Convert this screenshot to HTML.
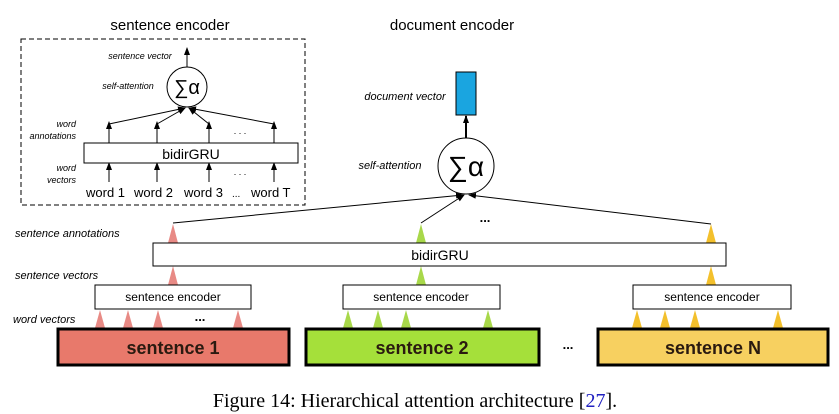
<!DOCTYPE html>
<html><head><style>
body{margin:0;background:#fff;}
svg{display:block;font-family:"Liberation Sans",sans-serif;}
</style></head><body>
<svg width="839" height="414" viewBox="0 0 839 414" xmlns="http://www.w3.org/2000/svg">
<defs>
<marker id="ah" markerWidth="8" markerHeight="8" refX="7" refY="4" orient="auto" markerUnits="userSpaceOnUse"><path d="M0,1 L8,4 L0,7 z" fill="#000"/></marker>
</defs>
<text x="170" y="30" font-size="15" text-anchor="middle">sentence encoder</text>
<rect x="21" y="39" width="284" height="166" fill="none" stroke="#000" stroke-dasharray="5,3"/>
<line x1="187" y1="67" x2="187" y2="48" stroke="#000" marker-end="url(#ah)"/>
<text x="140" y="59" font-size="9" font-style="italic" text-anchor="middle">sentence vector</text>
<text x="128" y="89" font-size="9" font-style="italic" text-anchor="middle">self-attention</text>
<circle cx="187" cy="87" r="20" fill="#fff" stroke="#000"/>
<text x="187" y="94" font-size="20" text-anchor="middle">∑α</text>
<g stroke="#000">
<line x1="109" y1="124" x2="185" y2="108" marker-end="url(#ah)"/>
<line x1="157" y1="124" x2="185" y2="108" marker-end="url(#ah)"/>
<line x1="209" y1="124" x2="189" y2="108" marker-end="url(#ah)"/>
<line x1="274" y1="124" x2="189" y2="108" marker-end="url(#ah)"/>
<line x1="109" y1="143" x2="109" y2="122" marker-end="url(#ah)"/>
<line x1="157" y1="143" x2="157" y2="122" marker-end="url(#ah)"/>
<line x1="209" y1="143" x2="209" y2="122" marker-end="url(#ah)"/>
<line x1="274" y1="143" x2="274" y2="122" marker-end="url(#ah)"/>
<line x1="109" y1="182" x2="109" y2="163" marker-end="url(#ah)"/>
<line x1="157" y1="182" x2="157" y2="163" marker-end="url(#ah)"/>
<line x1="209" y1="182" x2="209" y2="163" marker-end="url(#ah)"/>
<line x1="274" y1="182" x2="274" y2="163" marker-end="url(#ah)"/>
</g>
<text x="240" y="134" font-size="9" text-anchor="middle">. . .</text>
<text x="240" y="175" font-size="9" text-anchor="middle">. . .</text>
<rect x="84" y="143" width="214" height="20" fill="#fff" stroke="#000"/>
<text x="191" y="159" font-size="14" text-anchor="middle">bidirGRU</text>
<g font-size="9" font-style="italic" text-anchor="end">
<text x="76" y="127">word</text><text x="76" y="139">annotations</text>
<text x="76" y="171">word</text><text x="76" y="183">vectors</text>
</g>
<g font-size="13">
<text x="86" y="197">word 1</text><text x="134" y="197">word 2</text><text x="184" y="197">word 3</text>
<text x="232" y="197" font-size="10">...</text><text x="251" y="197">word T</text>
</g>
<text x="452" y="30" font-size="15" text-anchor="middle">document encoder</text>
<rect x="456" y="72" width="20" height="43" fill="#1aa5e0" stroke="#000"/>
<text x="405" y="100" font-size="11" font-style="italic" text-anchor="middle">document vector</text>
<line x1="466" y1="138" x2="466" y2="116" stroke="#000" stroke-width="2" marker-end="url(#ah)"/>
<text x="390" y="169" font-size="11" font-style="italic" text-anchor="middle">self-attention</text>
<circle cx="466" cy="166" r="28" fill="#fff" stroke="#000"/>
<text x="466" y="176" font-size="28" text-anchor="middle">∑α</text>
<g stroke="#000">
<line x1="173" y1="223" x2="463" y2="195" marker-end="url(#ah)"/>
<line x1="421" y1="223" x2="464" y2="195" marker-end="url(#ah)"/>
<line x1="711" y1="224" x2="469" y2="195" marker-end="url(#ah)"/>
</g>
<text x="485" y="222" font-size="13" font-weight="bold" text-anchor="middle">...</text>
<g>
<path d="M168,243 L173,224 L178,243 z" fill="#e88a85"/>
<path d="M168,285 L173,266 L178,285 z" fill="#e88a85"/>
<path d="M416,243 L421,224 L426,243 z" fill="#a8d84a"/>
<path d="M416,285 L421,266 L426,285 z" fill="#a8d84a"/>
<path d="M706,243 L711,224 L716,243 z" fill="#f3c02c"/>
<path d="M706,285 L711,266 L716,285 z" fill="#f3c02c"/>
</g>
<g fill="#e88a85">
<path d="M95,328 L100,310 L105,328z"/><path d="M123,328 L128,310 L133,328z"/><path d="M153,328 L158,310 L163,328z"/><path d="M233,328 L238,310 L243,328z"/>
</g>
<g fill="#a8d84a">
<path d="M343,328 L348,310 L353,328z"/><path d="M373,328 L378,310 L383,328z"/><path d="M401,328 L406,310 L411,328z"/><path d="M483,328 L488,310 L493,328z"/>
</g>
<g fill="#f3c02c">
<path d="M632,328 L637,310 L642,328z"/><path d="M660,328 L665,310 L670,328z"/><path d="M690,328 L695,310 L700,328z"/><path d="M773,328 L778,310 L783,328z"/>
</g>
<text x="200" y="321" font-size="13" font-weight="bold" text-anchor="middle">...</text>
<rect x="153" y="243" width="573" height="23" fill="#fff" stroke="#000"/>
<text x="440" y="260" font-size="14" text-anchor="middle">bidirGRU</text>
<g font-size="12">
<rect x="95" y="285" width="156" height="24" fill="#fff" stroke="#000"/><text x="173" y="301" text-anchor="middle">sentence encoder</text>
<rect x="343" y="285" width="157" height="24" fill="#fff" stroke="#000"/><text x="421" y="301" text-anchor="middle">sentence encoder</text>
<rect x="633" y="285" width="158" height="24" fill="#fff" stroke="#000"/><text x="712" y="301" text-anchor="middle">sentence encoder</text>
</g>
<g font-size="11" font-style="italic">
<text x="15" y="237">sentence annotations</text>
<text x="15" y="279">sentence vectors</text>
<text x="13" y="323">word vectors</text>
</g>
<g stroke="#000" stroke-width="3">
<rect x="58" y="329" width="231" height="36" fill="#e8796b"/>
<rect x="306" y="329" width="233" height="36" fill="#a5e03a"/>
<rect x="598" y="329" width="230" height="36" fill="#f7d060"/>
</g>
<g font-size="18" font-weight="bold" text-anchor="middle" fill="#2a1a10">
<text x="173" y="354">sentence 1</text>
<text x="422" y="354">sentence 2</text>
<text x="713" y="354">sentence N</text>
</g>
<text x="568" y="349" font-size="13" font-weight="bold" text-anchor="middle">...</text>
<text x="415" y="407" font-size="20" font-family="Liberation Serif, serif" text-anchor="middle">Figure 14: Hierarchical attention architecture [<tspan fill="#2020c0">27</tspan>].</text>
</svg>
</body></html>
